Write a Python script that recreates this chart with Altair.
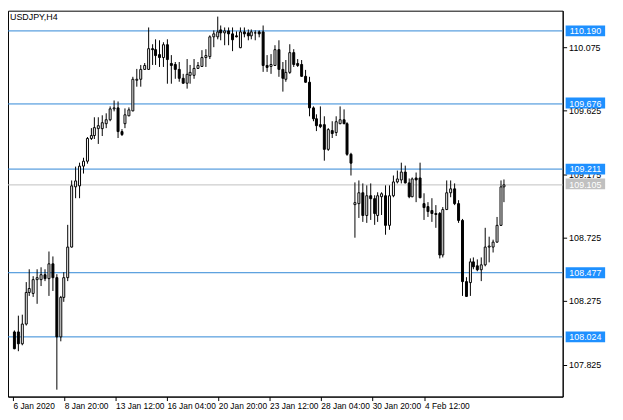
import pandas as pd
import altair as alt

FONT = "Liberation Sans"

symbol_title = "USDJPY,H4"

# H4 candles, oldest first
opens = [
    108.060, 108.060, 107.976, 108.116, 108.340, 108.330, 108.431, 108.431, 108.466, 108.438,
    108.543, 108.445, 108.025, 108.305, 108.445, 108.662, 109.088, 109.095, 109.235, 109.270,
    109.431, 109.452, 109.501, 109.501, 109.536, 109.564, 109.641, 109.648, 109.480, 109.536,
    109.592, 109.627, 109.844, 109.851, 109.920, 109.920, 110.067, 110.060, 110.025, 110.004,
    110.095, 109.962, 109.955, 109.920, 109.858, 109.823, 109.879, 109.879, 109.927, 109.941,
    110.004, 110.011, 110.151, 110.151, 110.200, 110.179, 110.193, 110.172, 110.158, 110.074,
    110.186, 110.179, 110.158, 110.179, 110.186, 110.186, 109.948, 109.941, 109.948, 110.060,
    109.920, 109.851, 109.899, 110.039, 109.962, 109.955, 109.872, 109.830, 109.648, 109.571,
    109.529, 109.529, 109.354, 109.487, 109.473, 109.536, 109.564, 109.536, 109.319, 108.962,
    108.969, 109.046, 108.886, 109.025, 109.004, 108.886, 109.018, 109.025, 108.816, 109.025,
    109.123, 109.137, 109.193, 109.116, 109.018, 109.151, 109.151, 108.969, 108.948, 108.920,
    108.900, 108.900, 108.606, 108.927, 109.046, 109.074, 108.969, 108.851, 108.417, 108.410,
    108.557, 108.529, 108.501, 108.536, 108.662, 108.662, 108.697, 108.816, 109.088,
]
highs = [
    108.067, 108.172, 108.179, 108.410, 108.501, 108.452, 108.501, 108.515, 108.501, 108.627,
    108.592, 108.466, 108.312, 108.480, 108.816, 109.130, 109.228, 109.256, 109.291, 109.438,
    109.501, 109.578, 109.578, 109.592, 109.606, 109.655, 109.697, 109.690, 109.494, 109.641,
    109.648, 109.865, 109.920, 109.948, 109.962, 110.214, 110.095, 110.130, 110.123, 110.109,
    110.130, 110.018, 109.969, 109.969, 109.886, 109.990, 109.948, 109.990, 109.969, 110.053,
    110.060, 110.158, 110.193, 110.291, 110.228, 110.214, 110.214, 110.214, 110.186, 110.214,
    110.214, 110.200, 110.200, 110.193, 110.193, 110.228, 110.018, 110.025, 110.088, 110.123,
    109.969, 109.983, 110.095, 110.060, 109.990, 109.983, 109.913, 109.865, 109.655, 109.599,
    109.655, 109.585, 109.501, 109.550, 109.585, 109.655, 109.634, 109.543, 109.326, 109.116,
    109.130, 109.109, 109.095, 109.109, 109.025, 109.046, 109.046, 109.095, 109.095, 109.165,
    109.200, 109.256, 109.235, 109.144, 109.151, 109.186, 109.256, 109.039, 108.976, 109.004,
    108.955, 108.906, 108.941, 109.130, 109.130, 109.109, 108.990, 108.858, 108.445, 108.578,
    108.585, 108.571, 108.585, 108.795, 108.732, 108.711, 108.872, 109.130, 109.137,
]
lows = [
    107.934, 107.920, 107.962, 108.102, 108.312, 108.305, 108.256, 108.382, 108.417, 108.312,
    108.347, 107.648, 107.990, 108.270, 108.417, 108.655, 109.004, 109.004, 109.179, 109.249,
    109.417, 109.424, 109.389, 109.445, 109.501, 109.550, 109.620, 109.431, 109.445, 109.501,
    109.585, 109.620, 109.795, 109.795, 109.913, 109.913, 109.948, 109.948, 109.934, 109.934,
    109.816, 109.816, 109.851, 109.830, 109.816, 109.781, 109.816, 109.851, 109.920, 109.934,
    109.934, 109.990, 110.074, 110.130, 110.123, 110.088, 110.088, 110.046, 110.144, 110.067,
    110.144, 110.123, 110.130, 110.123, 110.144, 109.899, 109.899, 109.886, 109.941, 109.865,
    109.760, 109.830, 109.886, 109.934, 109.934, 109.865, 109.823, 109.585, 109.550, 109.480,
    109.501, 109.270, 109.340, 109.431, 109.445, 109.529, 109.529, 109.305, 109.165, 108.725,
    108.865, 108.837, 108.830, 108.851, 108.816, 108.837, 108.886, 108.746, 108.781, 109.011,
    109.109, 109.109, 109.109, 109.004, 109.011, 108.976, 109.004, 108.851, 108.872, 108.837,
    108.795, 108.578, 108.585, 108.920, 109.011, 108.955, 108.830, 108.312, 108.305, 108.312,
    108.501, 108.487, 108.417, 108.522, 108.550, 108.620, 108.690, 108.809, 108.976,
]
closes = [
    107.941, 107.976, 108.116, 108.340, 108.368, 108.431, 108.445, 108.466, 108.438, 108.543,
    108.445, 108.025, 108.305, 108.445, 108.662, 109.095, 109.130, 109.235, 109.270, 109.431,
    109.452, 109.508, 109.522, 109.543, 109.564, 109.641, 109.648, 109.480, 109.459, 109.599,
    109.634, 109.851, 109.851, 109.920, 109.948, 110.067, 110.060, 110.018, 110.004, 110.095,
    109.990, 109.948, 109.920, 109.858, 109.823, 109.886, 109.899, 109.927, 109.948, 110.004,
    110.018, 110.151, 110.172, 110.186, 110.179, 110.193, 110.172, 110.130, 110.151, 110.186,
    110.172, 110.158, 110.186, 110.176, 110.172, 109.948, 109.934, 109.955, 110.060, 109.920,
    109.858, 109.899, 110.039, 109.955, 109.948, 109.872, 109.830, 109.648, 109.571, 109.522,
    109.515, 109.354, 109.494, 109.466, 109.550, 109.564, 109.536, 109.319, 109.256, 108.976,
    109.046, 108.886, 109.025, 109.004, 108.900, 109.025, 109.039, 108.816, 109.025, 109.123,
    109.144, 109.193, 109.116, 109.018, 109.144, 109.137, 109.011, 108.941, 108.913, 108.900,
    108.893, 108.606, 108.927, 109.046, 109.074, 108.969, 108.851, 108.417, 108.312, 108.557,
    108.522, 108.501, 108.536, 108.662, 108.669, 108.697, 108.816, 109.088, 109.105,
]

blue_levels = [110.190, 109.676, 109.211, 108.477, 108.024]
last_price = 109.105

y_ticks = [107.825, 108.050, 108.275, 108.500, 108.725, 108.950,
           109.175, 109.400, 109.625, 109.850, 110.075, 110.300]
x_tick_pos = [-0.25, 13.08, 26.58, 39.93, 53.43, 66.75, 80.25, 93.68, 107.18]
x_tick_labels = ['6 Jan 2020', '8 Jan 20:00', '13 Jan 12:00', '16 Jan 04:00',
                 '20 Jan 20:00', '23 Jan 12:00', '28 Jan 04:00', '30 Jan 20:00',
                 '4 Feb 12:00']

W, H = 562, 391

bars = pd.DataFrame({
    'bar': list(range(len(opens))),
    'open': opens, 'high': highs, 'low': lows, 'close': closes,
})
levels = pd.DataFrame({'price': blue_levels})
current = pd.DataFrame({'price': [last_price]})

# rounded scales + half pixel offsets keep the 1px lines crisp
xscale = alt.Scale(domain=[-0.25, 142.05], nice=False, zero=False, round=True)
yscale = alt.Scale(domain=[107.599, 110.333], nice=False, zero=False, round=True)

label_js = "[" + ",".join("'%s'" % s for s in x_tick_labels) + "]"
x_axis = alt.Axis(
    values=x_tick_pos,
    labelExpr=label_js + "[round((datum.value + 0.25) / 13.43)]",
    title="", grid=False, tickSize=4, labelAlign='left', labelBaseline='top',
    labelPadding=1, labelOverlap=False, labelBound=False, labelFlush=False,
    labelFontSize=8.5, zindex=0,
)
y_axis = alt.Axis(
    values=y_ticks, format='.3f', orient='right', title="", grid=False,
    tickSize=4, labelPadding=2, labelOverlap=False, labelBound=False,
    labelFlush=False, labelFontSize=9, zindex=0,
)

wicks = alt.Chart(bars).mark_rule(color='black', strokeWidth=1, xOffset=0.5).encode(
    x=alt.X('bar:Q', scale=xscale, axis=x_axis),
    y=alt.Y('low:Q', scale=yscale, axis=y_axis),
    y2='high:Q',
)

bodies = alt.Chart(bars).mark_bar(
    width=2, stroke='black', strokeWidth=1, xOffset=0.5, yOffset=0.5, y2Offset=0.5
).encode(
    x=alt.X('bar:Q', scale=xscale),
    y=alt.Y('open:Q', scale=yscale),
    y2='close:Q',
    fill=alt.condition('datum.close >= datum.open', alt.value('white'), alt.value('black')),
)

level_lines = alt.Chart(levels).mark_rule(color='#2f86d6', strokeWidth=1, yOffset=0.5).encode(
    y=alt.Y('price:Q', scale=yscale),
)
last_line = alt.Chart(current).mark_rule(color='#c0c0c0', strokeWidth=1, yOffset=0.5).encode(
    y=alt.Y('price:Q', scale=yscale),
)


def price_tag(df, fill):
    box = alt.Chart(df).transform_calculate(
        lo='datum.price - 0.0385', hi='datum.price + 0.0385'
    ).mark_rect(color=fill).encode(
        x=alt.value(W + 3), x2=alt.value(W + 43),
        y=alt.Y('lo:Q', scale=yscale), y2='hi:Q',
    )
    txt = alt.Chart(df).mark_text(
        color='white', font=FONT, fontSize=9, align='center', baseline='middle', dy=0.5
    ).encode(
        x=alt.value(W + 23),
        y=alt.Y('price:Q', scale=yscale),
        text=alt.Text('price:Q', format='.3f'),
    )
    return box + txt


title = alt.Chart(pd.DataFrame({'t': [symbol_title]})).mark_text(
    align='left', baseline='alphabetic', font=FONT, fontSize=9, color='black'
).encode(x=alt.value(2), y=alt.value(9), text='t:N')

chart = alt.layer(
    level_lines, last_line, wicks, bodies,
    price_tag(levels, '#1e90ff'), price_tag(current, '#c0c0c0'), title,
).properties(
    width=W, height=H,
    autosize=alt.AutoSizeParams(type='none'),
    padding={'left': 0, 'top': 0, 'right': 53, 'bottom': 21},
).configure_view(
    stroke='black', strokeWidth=1
).configure_axis(
    domainColor='black', tickColor='black', labelColor='black', labelFont=FONT,
)

chart.save("out.html", embed_options={"renderer": "svg", "actions": False})
